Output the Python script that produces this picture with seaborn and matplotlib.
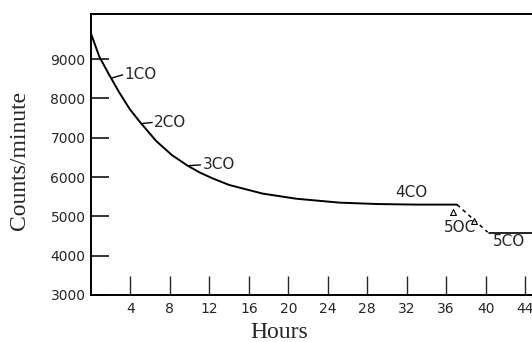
import pandas as pd
import seaborn as sns
import matplotlib
matplotlib.use("Agg")
import matplotlib.pyplot as plt

sns.set_style("ticks")

# Decay curve (hours, counts/minute)
hours = [0, 0.85, 1.85, 2.85, 3.9, 4.9, 6.6, 8.2, 9.8, 11.0, 12.3, 14.0,
         17.4, 20.8, 25.2, 29, 33, 37.1]
counts = [9650, 9060, 8600, 8160, 7740, 7420, 6920, 6560, 6290, 6120, 5970, 5800,
          5580, 5450, 5350, 5315, 5300, 5300]

# Drop after the 5th addition
drop_hours = [37.1, 40.2]
drop_counts = [5300, 4600]
tail_hours = [40.3, 44.7]
tail_counts = [4590, 4590]

# Small open triangles near the drop
tri_hours = [36.7, 38.8]
tri_counts = [5110, 4880]

# Labels: (text, curve x, curve y, text x, text y)
label_text = ["1CO", "2CO", "3CO", "4CO", "5OC", "5CO"]
label_hx = [2.1, 5.1, 9.8, None, None, None]
label_hy = [8520, 7360, 6290, None, None, None]
label_tx = [3.4, 6.4, 11.3, 30.8, 35.8, 40.7]
label_ty = [8600, 7390, 6310, 5600, 4720, 4360]

x_ticks = [4, 8, 12, 16, 20, 24, 28, 32, 36, 40, 44]
y_ticks = [3000, 4000, 5000, 6000, 7000, 8000, 9000]

fig = plt.figure(figsize=(5.32, 3.42), dpi=100)
ax = fig.add_axes([91 / 532, 47 / 342, 441 / 532, 281 / 342])

curve = pd.DataFrame({"hours": hours, "counts": counts})
sns.lineplot(data=curve, x="hours", y="counts", ax=ax, color="black", lw=1.4)
sns.lineplot(x=drop_hours, y=drop_counts, ax=ax, color="black", lw=1.1, linestyle=(0, (2.5, 2.5)))
sns.lineplot(x=tail_hours, y=tail_counts, ax=ax, color="black", lw=1.2)
sns.scatterplot(x=tri_hours, y=tri_counts, ax=ax, marker="^", s=18,
                facecolor="white", edgecolor="black", linewidth=0.8, zorder=3)

for line in ax.lines:
    line.set_solid_joinstyle("round")

for t, hx, hy, tx, ty in zip(label_text, label_hx, label_hy, label_tx, label_ty):
    if hx is not None:
        ax.plot([hx, tx - 0.2], [hy, ty], color="black", lw=1.0)
    ax.text(tx, ty, t, fontsize=11, va="center", ha="left", family="DejaVu Sans")

ax.set_xlim(0, 44.7)
ax.set_ylim(3000, 10150)
ax.set_xticks(x_ticks)
ax.set_yticks(y_ticks)
ax.tick_params(axis="x", direction="in", length=14, width=1.0, pad=5, labelsize=10)
ax.tick_params(axis="y", direction="in", length=13, width=1.3, pad=4, labelsize=10)

for side in ["left", "bottom", "top"]:
    ax.spines[side].set_linewidth(1.4)
    ax.spines[side].set_color("black")
ax.spines["right"].set_visible(False)

ax.set_xlabel("Hours", fontsize=17, family="Liberation Serif")
ax.set_ylabel("Counts/minute", fontsize=17, family="Liberation Serif")
ax.xaxis.set_label_coords((279 - 91) / 441, -0.132)
ax.yaxis.set_label_coords(-0.161, 0.48)
ax.xaxis.label.set_va("center")
ax.yaxis.label.set_va("center")

fig.savefig("out.png", dpi=100)
